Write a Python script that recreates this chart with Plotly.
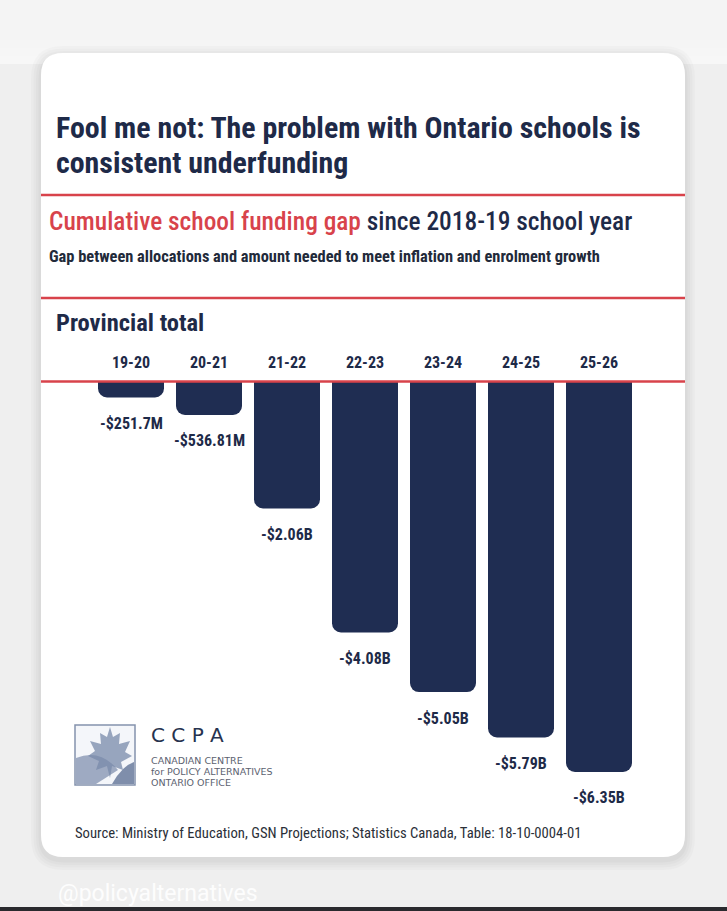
import plotly.graph_objects as go

# ---------------- data ----------------
categories = ["19-20", "20-21", "21-22", "22-23", "23-24", "24-25", "25-26"]
gap_billions = [-0.2517, -0.53681, -2.06, -4.08, -5.05, -5.79, -6.35]
value_labels = ["-$251.7M", "-$536.81M", "-$2.06B", "-$4.08B", "-$5.05B", "-$5.79B", "-$6.35B"]

title_lines = ["Fool me not: The problem with Ontario schools is", "consistent underfunding"]
subtitle_red = "Cumulative school funding gap"
subtitle_rest = " since 2018-19 school year"
subtitle2 = "Gap between allocations and amount needed to meet inflation and enrolment growth"
section_label = "Provincial total"
source_text = "Source: Ministry of Education, GSN Projections; Statistics Canada, Table: 18-10-0004-01"
logo_lines = ["CANADIAN CENTRE", "for POLICY ALTERNATIVES", "ONTARIO OFFICE"]
watermark = "@policyalternatives"

# ---------------- style ----------------
W, H = 727, 911
NAVY = "#1f2d52"
TEXTNAVY = "#1e2a48"
RED = "#d8434b"
FONT = "Roboto Condensed, DejaVu Sans Condensed, Liberation Sans Narrow, Roboto, sans-serif"


def px(x):
    return x / W


def py(y):
    return 1 - y / H


def P(x, y):
    return f"{px(x):.5f},{py(y):.5f}"


def rrect(x0, y0, x1, y1, r):
    return (f"M {P(x0 + r, y0)} L {P(x1 - r, y0)} Q {P(x1, y0)} {P(x1, y0 + r)} "
            f"L {P(x1, y1 - r)} Q {P(x1, y1)} {P(x1 - r, y1)} "
            f"L {P(x0 + r, y1)} Q {P(x0, y1)} {P(x0, y1 - r)} "
            f"L {P(x0, y0 + r)} Q {P(x0, y0)} {P(x0 + r, y0)} Z")


fig = go.Figure()
fig.add_trace(go.Bar(
    x=categories, y=gap_billions,
    marker=dict(color=NAVY, cornerradius=9, line=dict(width=0)),
    hoverinfo="skip",
))

shapes = []
# soft lighter top of page
for i, c in enumerate(["#f7f7f7", "#f6f6f6", "#f5f5f5", "#f4f4f4"]):
    shapes.append(dict(type="rect", xref="paper", yref="paper", x0=0, x1=1,
                       y0=py(40 + 8 * (3 - i)), y1=1,
                       fillcolor=c, line=dict(width=0), layer="below"))
# card shadow
for i, a in enumerate([0.018, 0.018, 0.02, 0.025]):
    g = 10 - i * 2.5
    shapes.append(dict(type="path", xref="paper", yref="paper",
                       path=rrect(41 - g, 53 - g + 3, 685 + g, 857 + g + 3, 22 + g),
                       fillcolor=f"rgba(0,0,0,{a})", line=dict(width=0), layer="below"))
# card
shapes.append(dict(type="path", xref="paper", yref="paper", path=rrect(41, 53, 685, 857, 22),
                   fillcolor="white", line=dict(width=0), layer="below"))
# red rules
for yy in [195, 298, 381.5]:
    shapes.append(dict(type="line", xref="paper", yref="paper", x0=px(41), x1=px(685),
                       y0=py(yy), y1=py(yy), line=dict(color=RED, width=2.5), layer="above"))
# bottom dark strip
shapes.append(dict(type="rect", xref="paper", yref="paper", x0=0, x1=1, y0=0, y1=py(907),
                   fillcolor="#2a2a2e", line=dict(width=0), layer="below"))
# logo box
shapes.append(dict(type="rect", xref="paper", yref="paper", x0=px(75), x1=px(135),
                   y0=py(785), y1=py(725), fillcolor="#f4f6fa",
                   line=dict(color="#8492ad", width=1.5), layer="above"))
# logo: lower shapes
shapes.append(dict(type="path", xref="paper", yref="paper",
                   path=f"M {P(76, 758)} Q {P(100, 748)} {P(118, 770)} L {P(96, 784)} L {P(76, 784)} Z",
                   fillcolor="#9eaac2", line=dict(width=0), layer="above"))
shapes.append(dict(type="path", xref="paper", yref="paper",
                   path=f"M {P(112, 784)} Q {P(122, 766)} {P(134, 762)} L {P(134, 784)} Z",
                   fillcolor="#7f8eab", line=dict(width=0), layer="above"))
# logo: maple leaf (rough)
leaf = [(110, 727), (113, 737), (120, 733), (119, 744), (130, 741), (125, 752),
        (132, 756), (121, 762), (123, 770), (112, 766), (110, 778), (107, 766),
        (96, 770), (99, 761), (88, 756), (95, 751), (90, 741), (101, 744),
        (100, 733), (107, 737)]
leaf_path = "M " + " L ".join(P(x, y) for x, y in leaf) + " Z"
shapes.append(dict(type="path", xref="paper", yref="paper", path=leaf_path,
                   fillcolor="rgba(120,138,170,0.75)", line=dict(width=0), layer="above"))

ann = []
# title
for i, t in enumerate(title_lines):
    ann.append(dict(text=f"<b>{t}</b>", x=px(54), y=py(127 + 36 * i), xref="paper", yref="paper",
                    xanchor="left", yanchor="middle", showarrow=False,
                    font=dict(family=FONT, size=29.9, color=TEXTNAVY)))
ann.append(dict(text=f"<span style='color:{RED}'>{subtitle_red}</span>{subtitle_rest}",
                x=px(47), y=py(221), xref="paper", yref="paper", xanchor="left", yanchor="middle",
                showarrow=False, font=dict(family=FONT, size=25.4, color=TEXTNAVY, weight=500)))
ann.append(dict(text=f"<b>{subtitle2}</b>", x=px(47), y=py(256), xref="paper", yref="paper",
                xanchor="left", yanchor="middle", showarrow=False,
                font=dict(family=FONT, size=16.4, color="#222a3a")))
ann.append(dict(text=f"<b>{section_label}</b>", x=px(54), y=py(323), xref="paper", yref="paper",
                xanchor="left", yanchor="middle", showarrow=False,
                font=dict(family=FONT, size=24.5, color=TEXTNAVY)))
# value labels
for c, v, lab in zip(categories, gap_billions, value_labels):
    ann.append(dict(text=f"<b>{lab}</b>", x=c, y=v, xref="x", yref="y", yshift=-26,
                    xanchor="center", yanchor="middle", showarrow=False,
                    font=dict(family=FONT, size=16, color=TEXTNAVY)))
# logo text
ann.append(dict(text="C C P A", x=px(149), y=py(735), xref="paper", yref="paper",
                xanchor="left", yanchor="middle", showarrow=False,
                font=dict(family="DejaVu Sans, sans-serif", size=20, color="#27334f")))
for i, t in enumerate(logo_lines):
    ann.append(dict(text=t, x=px(149), y=py(760 + 11 * i), xref="paper", yref="paper",
                    xanchor="left", yanchor="middle", showarrow=False,
                    font=dict(family="DejaVu Sans, sans-serif", size=9.5, color="#5c6270")))
# source
ann.append(dict(text=source_text, x=px(73), y=py(833), xref="paper", yref="paper",
                xanchor="left", yanchor="middle", showarrow=False,
                font=dict(family=FONT, size=14.7, color="#2b2f38")))
# watermark
ann.append(dict(text=watermark, x=px(56), y=py(893), xref="paper", yref="paper",
                xanchor="left", yanchor="middle", showarrow=False,
                font=dict(family="Roboto, sans-serif", size=23, color="rgba(255,255,255,0.9)")))

fig.update_layout(
    width=W, height=H,
    margin=dict(l=0, r=0, t=0, b=0),
    paper_bgcolor="#efefef",
    plot_bgcolor="rgba(0,0,0,0)",
    showlegend=False,
    bargap=12 / 78,
    shapes=shapes,
    annotations=ann,
    xaxis=dict(domain=[px(92), px(638)], side="top", showgrid=False, zeroline=False,
               showline=False, ticks="", ticklabelstandoff=10,
               tickfont=dict(family=FONT, size=16, color=TEXTNAVY, weight="bold"),
               fixedrange=True),
    yaxis=dict(domain=[py(800), py(382)], range=[-418 / 61.4, 0], visible=False,
               fixedrange=True),
)

fig.write_html("out.html", config={"displayModeBar": False},
               post_script="document.body.style.margin='0';document.body.style.overflow='hidden';")
